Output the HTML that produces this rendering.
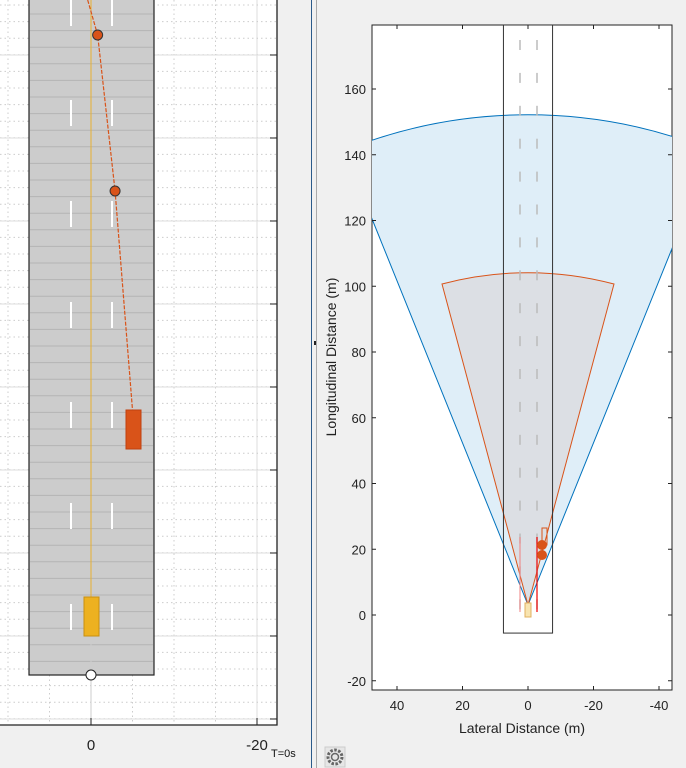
<!DOCTYPE html>
<html><head><meta charset="utf-8"><style>
html,body{margin:0;padding:0;background:#f0f0f0;}
svg{display:block;font-family:"Liberation Sans",sans-serif;}
</style></head><body>
<svg width="686" height="768" viewBox="0 0 686 768">
<defs>
<clipPath id="cl"><rect x="0" y="0" width="277" height="725"/></clipPath>
<clipPath id="cr"><rect x="372" y="25" width="300" height="665"/></clipPath>
</defs>
<rect x="0" y="0" width="686" height="768" fill="#f0f0f0"/>
<g id="left">
<rect x="0" y="0" width="277" height="725" fill="#fff"/>
<g id="lgrid" clip-path="url(#cl)"></g>
<g id="lroad" clip-path="url(#cl)"></g>
<polyline points="0,725 277,725 277,0" fill="none" stroke="#222" stroke-width="1.3"/>
<text x="91" y="750" font-size="15" text-anchor="middle" fill="#222">0</text>
<text x="257" y="750" font-size="15" text-anchor="middle" fill="#222">-20</text>
<text x="271" y="757" font-size="11" fill="#111">T=0s</text>
</g>
<line x1="311.5" y1="0" x2="311.5" y2="768" stroke="#2b5a8a" stroke-width="1"/>
<line x1="316.5" y1="0" x2="316.5" y2="768" stroke="#aaa" stroke-width="1"/>
<rect x="314" y="341" width="2" height="4" fill="#222"/>
<g id="right">
<rect x="372" y="25" width="300" height="665" fill="#fff" stroke="#222" stroke-width="1"/>
<g id="rplot" clip-path="url(#cr)"></g>
<g id="rticks"></g>
<text x="336" y="357" font-size="14" fill="#222" text-anchor="middle" transform="rotate(-90 336 357)">Longitudinal Distance (m)</text>
<text x="522" y="733" font-size="14" fill="#222" text-anchor="middle">Lateral Distance (m)</text>
</g>
<g transform="translate(335,757)">
<rect x="-10" y="-10" width="20" height="20" fill="#e6e6e6" stroke="#ccc"/>
<circle r="7" fill="none" stroke="#666" stroke-width="3" stroke-dasharray="2.5 1.5"/>
<circle r="3.5" fill="none" stroke="#666" stroke-width="1.5"/>
</g>
</svg>
<script>
const NS='http://www.w3.org/2000/svg';
function mk(p,t,a){const e=document.createElementNS(NS,t);for(const k in a)e.setAttribute(k,a[k]);p.appendChild(e);return e;}
const laneDashY=[0,100,201,302,402,503,604];
const trajX=[0.4,-0.8,-2.9,-5.0];
const trajY=[0,35,191,410];
const waypointIdx=[1,2];
const lx=v=>91-v*8.3;
const lg=document.getElementById('lgrid');
for(let m=10;m>-25;m-=5){const x=lx(m);const major=(m%20===0);
 mk(lg,'line',{x1:x,y1:0,x2:x,y2:725,stroke:major?'#ddd':'#ccc','stroke-width':1,'stroke-dasharray':major?'':'1.5 3'});}
for(let y=5;y<725;y+=16.6){mk(lg,'line',{x1:0,y1:y,x2:277,y2:y,stroke:'#ccc','stroke-width':1,'stroke-dasharray':'1.5 3'});}
for(let y=55;y<725;y+=83){mk(lg,'line',{x1:0,y1:y,x2:277,y2:y,stroke:'#ddd','stroke-width':1});
 mk(lg,'line',{x1:270,y1:y,x2:277,y2:y,stroke:'#222','stroke-width':1});}
const lr=document.getElementById('lroad');
let road=mk(lr,'rect',{x:29,y:-2,width:125,height:677,fill:'#cccccc',stroke:'#222','stroke-width':1.2});

for(let y=14;y<675;y+=16.6)mk(lr,'line',{x1:30,y1:y,x2:153,y2:y,stroke:'#b4b4b4','stroke-width':1});
laneDashY.forEach(y=>{[71,112].forEach(x=>{const d=mk(lr,'line',{x1:x,y1:y,x2:x,y2:y+26,stroke:'#fff','stroke-width':2});
 });});
mk(lr,'line',{x1:91,y1:0,x2:91,y2:597,stroke:'#e8b030','stroke-width':1});
mk(lr,'line',{x1:91,y1:636,x2:91,y2:725,stroke:'#ccc','stroke-width':1});
let traj=mk(lr,'polyline',{points:trajX.map((v,i)=>lx(v)+','+trajY[i]).join(' '),fill:'none',stroke:'#d95319','stroke-width':1.2,'stroke-dasharray':'4 1.5'});

let tc=mk(lr,'rect',{x:126,y:410,width:15,height:39,fill:'#d95319',stroke:'#c04010'});

let ec=mk(lr,'rect',{x:84,y:597,width:15,height:39,fill:'#edb120',stroke:'#c99010'});

waypointIdx.forEach(i=>{const c=mk(lr,'circle',{cx:lx(trajX[i]),cy:trajY[i],r:5,fill:'#d95319',stroke:'#333'});
 });
let ow=mk(lr,'circle',{cx:91,cy:675,r:5,fill:'#fff',stroke:'#222'});

mk(lr,'line',{x1:91,y1:718,x2:91,y2:725,stroke:'#222'});mk(lr,'line',{x1:257,y1:718,x2:257,y2:725,stroke:'#222'});
const yTicks=[-20,0,20,40,60,80,100,120,140,160];
const xTicks=[40,20,0,-20,-40];
const radarRange=[149,101];
const radarHalfAngle=[22,15];
const bx=v=>528-v*3.275, by=v=>615-v*3.2875;
const rp=document.getElementById('rplot');
const ax0=528, ay0=605;
const cols=[['#dfeef8','#0072bd'],['#dcdce0','#d95319']];
radarRange.forEach((r,i)=>{const R=r*3.29,a=radarHalfAngle[i]*Math.PI/180;
 const x1=ax0-R*Math.sin(a),y1=ay0-R*Math.cos(a),x2=ax0+R*Math.sin(a);
 const p=mk(rp,'path',{d:`M${ax0},${ay0} L${x1},${y1} A${R},${R} 0 0 1 ${x2},${y1} Z`,fill:cols[i][0],'fill-opacity':i?0.85:1,stroke:cols[i][1],'stroke-width':1});
 });
let rr=mk(rp,'rect',{x:bx(7.5),y:25,width:bx(-7.5)-bx(7.5),height:by(-5.5)-25,fill:'none',stroke:'#333','stroke-width':1});

for(let y=40;y<600;y+=32.9){[520,537].forEach(x=>mk(rp,'line',{x1:x,y1:y,x2:x,y2:y+10,stroke:'#bbb','stroke-width':1.5}));}
mk(rp,'line',{x1:520,y1:537,x2:520,y2:612,stroke:'#f08080','stroke-width':1});
mk(rp,'line',{x1:537,y1:537,x2:537,y2:612,stroke:'#e00','stroke-width':1.2});
let be=mk(rp,'rect',{x:525,y:603,width:6,height:14,fill:'#f8e4b0',stroke:'#e0b060'});

mk(rp,'rect',{x:542,y:528,width:5,height:17,fill:'none',stroke:'#d95319'});
[545,555].forEach(y=>{const d=mk(rp,'circle',{cx:542,cy:y,r:5,fill:'#d95319'});
 });
const rt=document.getElementById('rticks');
yTicks.forEach(v=>{const y=by(v);mk(rt,'line',{x1:372,y1:y,x2:376,y2:y,stroke:'#222'});mk(rt,'line',{x1:668,y1:y,x2:672,y2:y,stroke:'#222'});
 const t=mk(rt,'text',{x:366,y:y+5,'font-size':13,'text-anchor':'end',fill:'#222'});t.textContent=v;
 });
xTicks.forEach(v=>{const x=bx(v);mk(rt,'line',{x1:x,y1:686,x2:x,y2:690,stroke:'#222'});mk(rt,'line',{x1:x,y1:25,x2:x,y2:29,stroke:'#222'});
 const t=mk(rt,'text',{x:x,y:710,'font-size':13,'text-anchor':'middle',fill:'#222'});t.textContent=v;
 });
</script>
</body></html>
